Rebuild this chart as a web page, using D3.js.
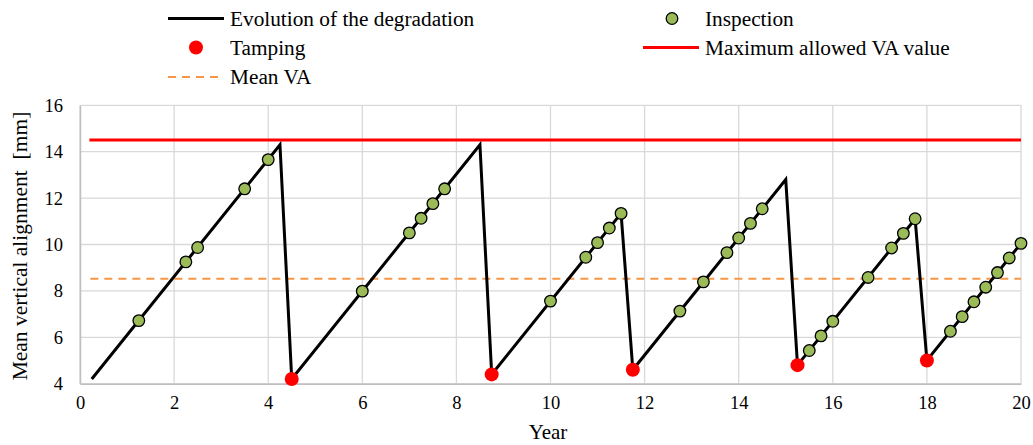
<!DOCTYPE html>
<html lang="en">
<head>
<meta charset="utf-8">
<script src="https://cdn.jsdelivr.net/npm/d3@7"></script>
<style>
body{margin:0;background:#fff;}
svg text{font-family:"Liberation Serif","Times New Roman",serif;fill:#000;}
</style>
</head>
<body>
<div id="chart"></div>
<script>
// degradation path (year, VA)
const degYears=[0.25,4.25,4.5,8.5,8.75,11.5,11.75,15,15.25,17.75,18,20]
const degValues=[4.2,14.3,4.2,14.3,4.4,11.34,4.6,12.8,4.8,11.1,5.0,10.05]
// inspections
const inspYears=[1.25,2.25,2.5,3.5,4,6,7,7.25,7.5,7.75,10,10.75,11,11.25,11.5,12.75,13.25,13.75,14,14.25,14.5,15.5,15.75,16,16.75,17.25,17.5,17.75,18.5,18.75,19,19.25,19.5,19.75,20]
const inspValues=[6.72,9.25,9.87,12.4,13.66,7.99,10.5,11.13,11.76,12.4,7.56,9.45,10.08,10.71,11.34,7.13,8.39,9.65,10.28,10.91,11.54,5.43,6.06,6.69,8.58,9.85,10.48,11.11,6.26,6.89,7.53,8.16,8.79,9.42,10.05]
// tamping
const tampYears=[4.5,8.75,11.75,15.25,18]
const tampValues=[4.2,4.4,4.6,4.8,5.0]
const maxVA=14.5
const meanVA=8.52
const xTicks=[0,2,4,6,8,10,12,14,16,18,20]
const yTicks=[4,6,8,10,12,14,16]

const W=1033,H=445
const svg=d3.select("#chart").append("svg").attr("width",W).attr("height",H)
const x=d3.scaleLinear().domain([0,20]).range([80,1021])
const y=d3.scaleLinear().domain([4,16]).range([383.7,105.3])

// grid
const grid=svg.append("g")
grid.selectAll(".gx").data(xTicks).join("line")
  .attr("x1",d=>x(d)).attr("x2",d=>x(d)).attr("y1",y(16)).attr("y2",y(4))
  .attr("stroke","#d9d9d9").attr("stroke-width",1.3)
grid.selectAll(".gy").data(yTicks).join("line")
  .attr("x1",x(0)).attr("x2",x(20)).attr("y1",d=>y(d)).attr("y2",d=>y(d))
  .attr("stroke","#d9d9d9").attr("stroke-width",1.3)

// axes
const xAxis=svg.append("g").attr("transform",`translate(0,${y(4)})`)
  .call(d3.axisBottom(x).tickValues(xTicks).tickSize(0).tickPadding(12))
const yAxis=svg.append("g").attr("transform",`translate(${x(0)},0)`)
  .call(d3.axisLeft(y).tickValues(yTicks).tickSize(0).tickPadding(17))
;[xAxis,yAxis].forEach(a=>{
  a.select(".domain").attr("stroke","#bfbfbf").attr("stroke-width",1.5)
  a.selectAll("text").style("font-family","Liberation Serif").style("font-size","18.5px")
})

// mean VA
svg.append("line").attr("x1",x(0.22)).attr("x2",x(20)).attr("y1",y(meanVA)).attr("y2",y(meanVA))
  .attr("stroke","#f79646").attr("stroke-width",2).attr("stroke-dasharray","8,6")
// max VA
svg.append("line").attr("x1",x(0.2)).attr("x2",x(20)).attr("y1",y(maxVA)).attr("y2",y(maxVA))
  .attr("stroke","#ff0000").attr("stroke-width",3)

// degradation
const line=d3.line().x(d=>x(d[0])).y(d=>y(d[1]))
svg.append("path").datum(d3.zip(degYears,degValues)).attr("d",line)
  .attr("fill","none").attr("stroke","#000").attr("stroke-width",3).attr("stroke-linejoin","miter")

svg.append("g").selectAll("circle").data(d3.zip(tampYears,tampValues)).join("circle")
  .attr("cx",d=>x(d[0])).attr("cy",d=>y(d[1])).attr("r",7).attr("fill","#ff0000")
svg.append("g").selectAll("circle").data(d3.zip(inspYears,inspValues)).join("circle")
  .attr("cx",d=>x(d[0])).attr("cy",d=>y(d[1])).attr("r",5.8)
  .attr("fill","#9bbb59").attr("stroke","#000").attr("stroke-width",1.3)

// titles
svg.append("text").attr("x",548).attr("y",439).attr("text-anchor","middle")
  .style("font-size","21px").text("Year")
svg.append("text").attr("transform",`translate(27,246) rotate(-90)`).attr("text-anchor","middle")
  .style("font-size","21.5px").style("white-space","pre").text("Mean vertical alignment  [mm]")

// legend
const lg=svg.append("g").style("font-size","21.3px")
const leg=[
  {t:"Evolution of the degradation",x:230,y:18.5,k:"line",c:"#000"},
  {t:"Inspection",x:705,y:18.5,k:"insp"},
  {t:"Tamping",x:230,y:47.5,k:"tamp"},
  {t:"Maximum allowed VA value",x:705,y:47.5,k:"line",c:"#ff0000"},
  {t:"Mean VA",x:230,y:77,k:"dash"}
]
leg.forEach(d=>{
  if(d.k=="line") lg.append("line").attr("x1",d.x-62).attr("x2",d.x-6).attr("y1",d.y).attr("y2",d.y).attr("stroke",d.c).attr("stroke-width",3)
  if(d.k=="dash") lg.append("line").attr("x1",d.x-62).attr("x2",d.x-10).attr("y1",d.y).attr("y2",d.y).attr("stroke","#f79646").attr("stroke-width",2).attr("stroke-dasharray","8,6")
  if(d.k=="insp") lg.append("circle").attr("cx",d.x-33).attr("cy",d.y).attr("r",5.8).attr("fill","#9bbb59").attr("stroke","#000").attr("stroke-width",1.3)
  if(d.k=="tamp") lg.append("circle").attr("cx",d.x-34).attr("cy",d.y).attr("r",7).attr("fill","#ff0000")
  lg.append("text").attr("x",d.x).attr("y",d.y).attr("dy","0.35em").text(d.t)
})
</script>
</body>
</html>
